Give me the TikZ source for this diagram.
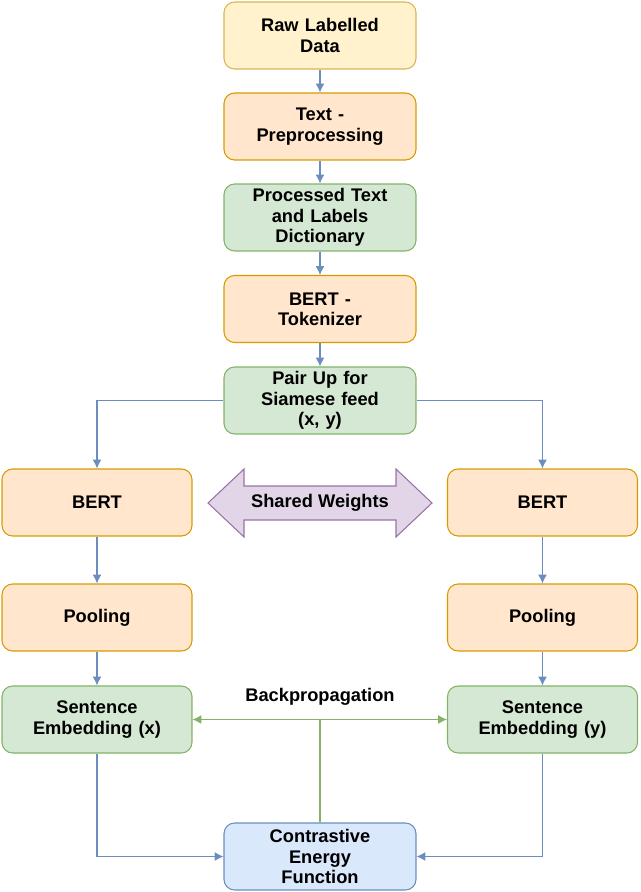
\documentclass[tikz,border=0pt]{standalone}
\usepackage{fontspec}
\setmainfont{Liberation Sans}
\usetikzlibrary{arrows.meta}
\definecolor{yf}{HTML}{FFF2CC}\definecolor{ys}{HTML}{D6B656}
\definecolor{of}{HTML}{FFE6CC}\definecolor{os}{HTML}{D79B00}
\definecolor{gf}{HTML}{D5E8D4}\definecolor{gs}{HTML}{82B366}
\definecolor{bf}{HTML}{DAE8FC}\definecolor{bs}{HTML}{6C8EBF}
\definecolor{pf}{HTML}{E1D5E7}\definecolor{ps}{HTML}{9673A6}
\begin{document}
\begin{tikzpicture}[x=0.02cm,y=-0.02cm,
 fnt/.style={font=\bfseries\fontsize{10.4}{11.6}\selectfont},
 box/.style={fnt,rounded corners=6pt,line width=0.6pt,minimum height=1.34cm,text width=3.7cm,align=center,inner sep=1pt},
 nw/.style={box,minimum width=3.84cm},
 ww/.style={box,minimum width=3.8cm},
 Y/.style={fill=yf,draw=ys},O/.style={fill=of,draw=os},G/.style={fill=gf,draw=gs},B/.style={fill=bf,draw=bs},
 ar/.style={draw=bs,line width=0.6pt,-{Latex[length=5pt,width=5pt]}},
 gar/.style={draw=gs,line width=0.6pt,{Latex[length=5pt,width=5pt]}-{Latex[length=5pt,width=5pt]}}]
\useasboundingbox (0,0) rectangle (640,892);
\node[nw,Y] (raw) at (320,35.5) {Raw Labelled\\Data};
\node[nw,O] (pre) at (320,126.5) {Text -\\Preprocessing};
\node[nw,G] (proc) at (320,217.5) {Processed Text\\and Labels\\Dictionary};
\node[nw,O] (tok) at (320,309) {BERT -\\Tokenizer};
\node[nw,G] (pair) at (320,400.5) {Pair Up for\\Siamese feed\\(x, y)};
\node[ww,O] (bl) at (97,502.5) {BERT};
\node[ww,O] (br) at (542.5,502.5) {BERT};
\node[ww,O] (pl) at (97,617.5) {Pooling};
\node[ww,O] (pr) at (542.5,617.5) {Pooling};
\node[ww,G] (sx) at (97,719.5) {Sentence\\Embedding (x)};
\node[ww,G] (sy) at (542.5,719.5) {Sentence\\Embedding (y)};
\node[nw,B] (ce) at (320,856.5) {Contrastive\\Energy\\Function};
\filldraw[fill=pf,draw=ps,line width=0.6pt] (208,503)--(244,469)--(244,486)--(396,486)--(396,469)--(432,503)--(396,537)--(396,520)--(244,520)--(244,537)--cycle;
\node[fnt] (sw) at (320,503) {Shared Weights};
\node[fnt] (bp) at (320,697) {Backpropagation};
\draw[ar] (raw)--(pre); \draw[ar] (pre)--(proc); \draw[ar] (proc)--(tok); \draw[ar] (tok)--(pair);
\draw[ar] (pair.west) -| (bl.north); \draw[ar] (pair.east) -| (br.north);
\draw[ar] (bl)--(pl); \draw[ar] (br)--(pr); \draw[ar] (pl)--(sx); \draw[ar] (pr)--(sy);
\draw[ar] (sx.south) |- (ce.west); \draw[ar] (sy.south) |- (ce.east);
\draw[gar] (sx.east)--(sy.west);
\coordinate (mid) at (320,719.5);
\draw[draw=gs,line width=0.6pt] (mid)--(ce.north);
\end{tikzpicture}
\end{document}
